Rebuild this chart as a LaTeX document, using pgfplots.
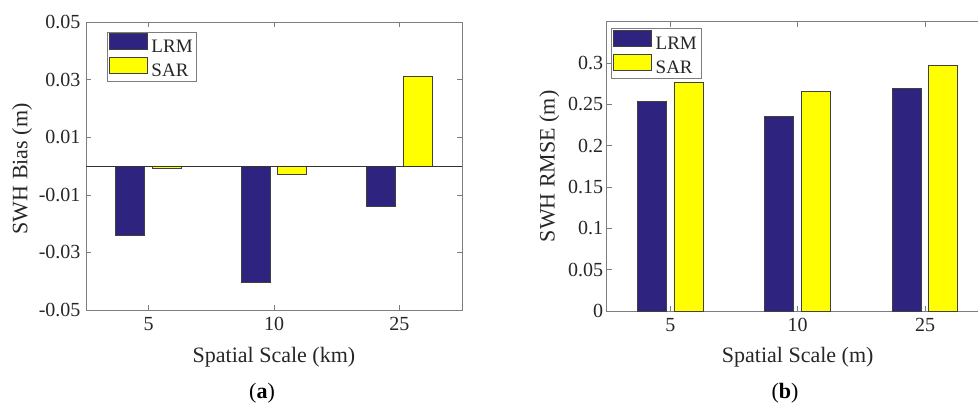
\documentclass[border=0pt]{standalone}
\usepackage{fontspec}
\setmainfont{Liberation Serif}
\usepackage{pgfplots}
\pgfplotsset{compat=1.18}
\definecolor{lrm}{RGB}{46,36,128}
\definecolor{sar}{RGB}{255,255,0}
\definecolor{axgray}{RGB}{125,125,125}
\pgfplotsset{
  myaxis/.style={
    scale only axis, xmin=0.5, xmax=3.5,
    xtick={1,2,3}, xticklabels={5,10,25},
    scaled y ticks=false,
    axis line style={axgray, line width=0.6pt},
    tick style={axgray, line width=0.6pt},
    major tick length=5pt, tick align=inside,
    xtick pos=both, ytick pos=both,
    ticklabel style={font=\fontsize{20}{20}\selectfont, text=black!85},
    xticklabel style={yshift=-4pt},
    label style={font=\fontsize{22}{22}\selectfont, text=black!85},
    legend cell align=left,
    legend style={draw=axgray, fill=white, font=\fontsize{19}{19}\selectfont,
      inner xsep=2pt, inner ysep=1.5pt, row sep=1pt, text=black!85},
  },
  mybar/.style={ybar, bar width=29pt, draw=black!75, line width=0.6pt,
    legend image code/.code={\draw[##1] (0pt,-2.5pt) rectangle (38pt,13.5pt);
      \path (40pt,0pt);}},
}
\begin{document}
\begin{tikzpicture}
\useasboundingbox (0pt,0pt) rectangle (978pt,405pt);
% panel (a)
\begin{axis}[myaxis, at={(86pt,95pt)}, anchor=south west, width=376pt, height=288pt,
  ymin=-0.05, ymax=0.05,
  ytick={-0.05,-0.03,-0.01,0.01,0.03,0.05},
  yticklabels={-0.05,-0.03,-0.01,0.01,0.03,0.05},
  yticklabel style={xshift=-2pt},
  xlabel={Spatial Scale (km)}, ylabel={SWH Bias (m)},
  x label style={at={(axis description cs:0.5,-0.165)}, anchor=center},
  y label style={at={(axis description cs:-0.170,0.49)}, anchor=center},
  legend style={at={(0.055,0.966)}, anchor=north west},
]
\addplot[mybar, fill=lrm, bar shift=-18.5pt] coordinates {(1,-0.0242) (2,-0.0403) (3,-0.0140)};
\addlegendentry{LRM}
\addplot[mybar, fill=sar, bar shift=18pt] coordinates {(1,-0.0009) (2,-0.0029) (3,0.0311)};
\addlegendentry{SAR}
\addplot[black!80, line width=0.7pt, forget plot] coordinates {(0.5,0) (3.5,0)};
\end{axis}
% panel (b)
\begin{axis}[myaxis, at={(606.7pt,94pt)}, anchor=south west, width=382pt, height=289.3pt,
  ymin=0, ymax=0.35,
  ytick={0,0.05,0.1,0.15,0.2,0.25,0.3},
  yticklabels={0,0.05,0.1,0.15,0.2,0.25,0.3},
  xlabel={Spatial Scale (m)}, ylabel={SWH RMSE (m)},
  x label style={at={(axis description cs:0.5,-0.16)}, anchor=center},
  y label style={at={(axis description cs:-0.150,0.5)}, anchor=center},
  legend style={at={(0.011,0.977)}, anchor=north west},
]
\addplot[mybar, fill=lrm, bar shift=-18.5pt] coordinates {(1,0.2535) (2,0.2354) (3,0.2693)};
\addlegendentry{LRM}
\addplot[mybar, fill=sar, bar shift=18pt] coordinates {(1,0.2770) (2,0.2660) (3,0.2971)};
\addlegendentry{SAR}
\end{axis}
\node[font=\fontsize{22}{22}\selectfont] at (262pt,12pt) {(\textbf{a})};
\node[font=\fontsize{22}{22}\selectfont] at (785pt,12pt) {(\textbf{b})};
\end{tikzpicture}
\end{document}
